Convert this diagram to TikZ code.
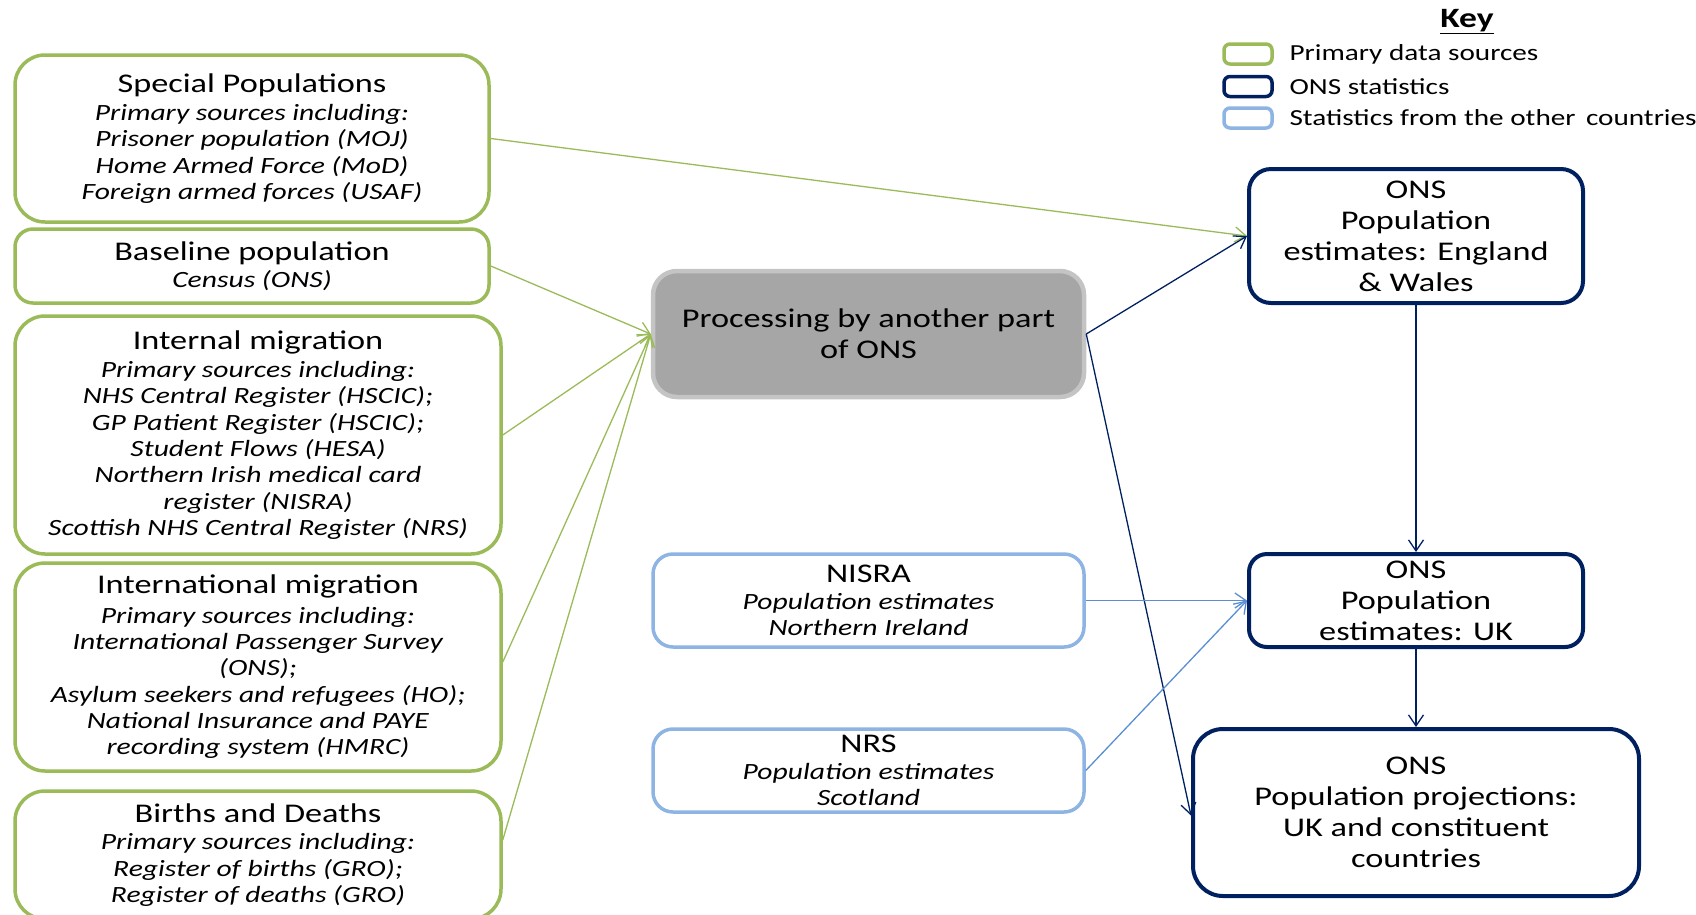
\documentclass[tikz,border=0pt]{standalone}
\usepackage{fontspec}
\setmainfont{Carlito}[FakeStretch=1.27]
\usetikzlibrary{arrows.meta,positioning}
\definecolor{srcgreen}{HTML}{9BBB59}
\definecolor{onsnavy}{HTML}{002060}
\definecolor{othblue}{HTML}{8DB4E2}
\definecolor{othline}{HTML}{5A8ED2}
\definecolor{procfill}{HTML}{A6A6A6}
\definecolor{procedge}{HTML}{C4C4C4}
\newcommand{\srctitle}[1]{{\fontsize{27}{29}\selectfont #1}}
\tikzset{
  box/.style={align=center, inner sep=1pt},
  srcbox/.style={box, draw=srcgreen, line width=3.5pt, rounded corners=30pt,
    font=\fontsize{23.3}{26.3}\selectfont},
  onsbox/.style={box, draw=onsnavy, line width=4pt, rounded corners=22pt,
    font=\fontsize{27}{31}\selectfont},
  othbox/.style={box, draw=othblue, line width=3.5pt, rounded corners=20pt,
    font=\fontsize{23.3}{26.3}\selectfont},
  procbox/.style={box, fill=procfill, draw=procedge, line width=4.5pt, rounded corners=24pt,
    font=\fontsize{27}{31}\selectfont},
  keybox/.style={draw=#1, line width=3.5pt, rounded corners=6pt,
    minimum width=48pt, minimum height=20pt},
  keytext/.style={anchor=west, font=\fontsize{23}{26}\selectfont},
  flow/.style={line width=1.3pt, -{Straight Barb[length=11pt,width=15pt]}},
  srcflow/.style={flow, draw=srcgreen},
  onsflow/.style={flow, draw=onsnavy},
  othflow/.style={flow, draw=othline}
}
\begin{document}
\begin{tikzpicture}[x=1pt,y=-1pt]
  \useasboundingbox (0,0) rectangle (1696,914);
  %% primary data sources
  \node[srcbox, minimum width=474pt, minimum height=167pt] (special) at (252,138.5)
    {\srctitle{Special Populations}\\[2pt] \textit{Primary sources including:}\\
     \textit{Prisoner population (MOJ)}\\ \textit{Home Armed Force (MoD)}\\
     \textit{Foreign armed forces (USAF)}};
  \node[srcbox, rounded corners=18pt, minimum width=474pt, minimum height=74pt] (baseline) at (252,266)
    {\srctitle{Baseline population}\\[1pt] \textit{Census (ONS)}};
  \node[srcbox, minimum width=486pt, minimum height=238pt] (internal) at (258,435)
    {\srctitle{Internal migration}\\[2pt] \textit{Primary sources including:}\\
     \textit{NHS Central Register (HSCIC);}\\ \textit{GP Patient Register (HSCIC);}\\
     \textit{Student Flows (HESA)}\\ \textit{Northern Irish medical card}\\
     \textit{register (NISRA)}\\ \textit{Scottish NHS Central Register (NRS)}};
  \node[srcbox, minimum width=486pt, minimum height=208pt] (international) at (258,667)
    {\srctitle{International migration}\\[3pt] \textit{Primary sources including:}\\
     \textit{International Passenger Survey}\\ \textit{(ONS);}\\
     \textit{Asylum seekers and refugees (HO);}\\ \textit{National Insurance and PAYE}\\
     \textit{recording system (HMRC)}};
  \node[srcbox, minimum width=486pt, minimum height=128pt] (births) at (258,855)
    {\srctitle{Births and Deaths}\\[1pt] \textit{Primary sources including:}\\
     \textit{Register of births (GRO);}\\ \textit{Register of deaths (GRO)}};
  %% processing and other countries
  \node[procbox, minimum width=431pt, minimum height=126pt] (process) at (868.5,334)
    {Processing by another part\\ of ONS};
  \node[othbox, minimum width=431pt, minimum height=93pt] (nisra) at (868.5,600.5)
    {\srctitle{NISRA}\\ \textit{Population estimates}\\ \textit{Northern Ireland}};
  \node[othbox, minimum width=431pt, minimum height=83pt] (nrs) at (868.5,770.5)
    {\srctitle{NRS}\\ \textit{Population estimates}\\ \textit{Scotland}};
  %% ONS statistics
  \node[onsbox, minimum width=334pt, minimum height=134pt] (onsew) at (1416,236)
    {ONS\\ Population\\ estimates: England\\ \& Wales};
  \node[onsbox, rounded corners=18pt, minimum width=334pt, minimum height=93pt] (onsuk) at (1416,600.5)
    {ONS\\ Population\\ estimates: UK};
  \node[onsbox, rounded corners=30pt, minimum width=446pt, minimum height=167pt] (onsproj) at (1416,812.5)
    {ONS\\ Population projections:\\ UK and constituent\\ countries};
  %% key
  \node[font=\fontsize{28}{30}\selectfont\bfseries] (key) at (1467,22) {\underline{Key}};
  \node[keybox=srcgreen] (keysrc) at (1248,54) {};
  \node[keybox=onsnavy] (keyons) at (1248,86.5) {};
  \node[keybox=othblue] (keyoth) at (1248,118) {};
  \node[keytext] at (1286,54) {Primary data sources};
  \node[keytext] at (1286,86.5) {ONS statistics};
  \node[keytext] at (1286,118) {Statistics from the other\, countries};
  %% arrows
  \draw[srcflow] (special.east) -- (onsew.west);
  \foreach \src/\yy in {baseline/0, internal/0, international/5, births/15}
    \draw[srcflow] ([yshift=\yy pt]\src.east) -- (process.west);
  \draw[onsflow] (process.east) -- (onsew.west);
  \draw[onsflow] (process.east) -- ([yshift=-3pt]onsproj.west);
  \draw[onsflow] (onsew.south) -- (onsuk.north);
  \draw[onsflow] (onsuk.south) -- (onsproj.north);
  \draw[othflow] (nisra.east) -- (onsuk.west);
  \draw[othflow] (nrs.east) -- (onsuk.west);
\end{tikzpicture}
\end{document}
